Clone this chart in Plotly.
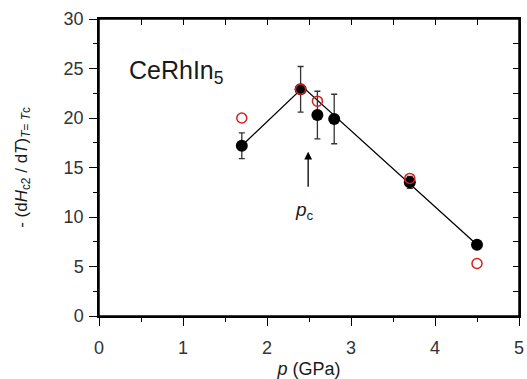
import plotly.graph_objects as go

# Data
p_black = [1.7, 2.4, 2.6, 2.8, 3.7, 4.5]
v_black = [17.2, 22.9, 20.3, 19.9, 13.5, 7.2]
e_black = [1.3, 2.3, 2.4, 2.5, 0.6, 0.3]
p_red = [1.7, 2.4, 2.6, 3.7, 4.5]
v_red = [20.0, 22.9, 21.7, 13.9, 5.3]
p_line = [1.7, 2.43, 4.5]
v_line = [17.2, 23.1, 7.2]

FONT = "Liberation Sans, Arial, sans-serif"
TXT = "#1a1a1a"

fig = go.Figure()
fig.add_trace(go.Scatter(x=p_line, y=v_line, mode="lines",
                         line=dict(color="black", width=1.3), showlegend=False))
fig.add_trace(go.Scatter(x=p_black, y=v_black, mode="markers",
                         marker=dict(color="black", size=12),
                         error_y=dict(type="data", array=e_black, color="#333333",
                                      thickness=1.3, width=3),
                         showlegend=False))
fig.add_trace(go.Scatter(x=p_red, y=v_red, mode="markers", xaxis="x2", yaxis="y2",
                         marker=dict(color="rgba(0,0,0,0)", size=10,
                                     line=dict(color="#d62020", width=1.5)),
                         showlegend=False))

axis_common = dict(showgrid=False, zeroline=False, showline=True, linecolor="black",
                   linewidth=1.5, ticks="outside", ticklen=8, tickwidth=1.3, mirror=True,
                   tickcolor="black", tickfont=dict(family=FONT, size=18, color="#333333"))

fig.update_layout(
    width=527, height=379,
    margin=dict(l=99, r=8, t=19, b=63, autoexpand=False),
    plot_bgcolor="rgba(0,0,0,0)", paper_bgcolor="white",
    xaxis=dict(range=[0, 5], dtick=1, tick0=0, ticklabelstandoff=7, domain=[0, 1],
               minor=dict(dtick=0.5, ticks="outside", ticklen=4, tickwidth=1.3, tickcolor="black"),
               title=dict(text="<i>p</i> (GPa)", font=dict(family=FONT, size=18, color=TXT),
                          standoff=6),
               **axis_common),
    yaxis=dict(range=[0, 30], dtick=5, tick0=0, ticklabelstandoff=2, domain=[0, 1],
               minor=dict(dtick=2.5, ticks="outside", ticklen=4, tickwidth=1.3, tickcolor="black"),
               title=dict(text="- (d<i>H</i><sub>c2</sub> / d<i>T</i>)<sub><i>T</i>= <i>T</i>c</sub>",
                          font=dict(family=FONT, size=17, color=TXT), standoff=32),
               **axis_common),
    # second, independent subplot on the same domain: gives inward ticks on top/right
    xaxis2=dict(range=[0, 5], domain=[0, 1], anchor="y2", side="top", showline=True,
                linecolor="black", linewidth=1.5,
                ticks="inside", ticklen=6, tickwidth=1.3,
                tickcolor="black", dtick=0.5, tick0=0,
                showticklabels=False, showgrid=False, zeroline=False),
    yaxis2=dict(range=[0, 30], domain=[0, 1], anchor="x2", side="right", showline=False,
                ticks="inside", ticklen=6, tickwidth=1.3,
                tickcolor="black", dtick=2.5, tick0=0,
                showticklabels=False, showgrid=False, zeroline=False),
)

# plot frame
fig.add_shape(type="rect", xref="x domain", yref="y domain", x0=0, x1=1, y0=0, y1=1,
              line=dict(color="black", width=1.5), fillcolor="rgba(0,0,0,0)", layer="above")

fig.add_annotation(x=0.33, y=24.6, xref="x", yref="y", xanchor="left", yanchor="middle",
                   text="CeRhIn<sub>5</sub>", showarrow=False,
                   font=dict(family=FONT, size=25, color=TXT))
fig.add_annotation(x=2.49, y=16.6, ax=2.49, ay=12.9, xref="x", yref="y", axref="x", ayref="y",
                   text="", showarrow=True, arrowhead=2, arrowsize=1.2, arrowwidth=1.3,
                   arrowcolor="black")
fig.add_annotation(x=2.45, y=10.6, xref="x", yref="y", text="<i>p</i><sub>c</sub>",
                   showarrow=False, font=dict(family=FONT, size=19, color=TXT))

fig.write_html("out.html", config={"displayModeBar": False})
